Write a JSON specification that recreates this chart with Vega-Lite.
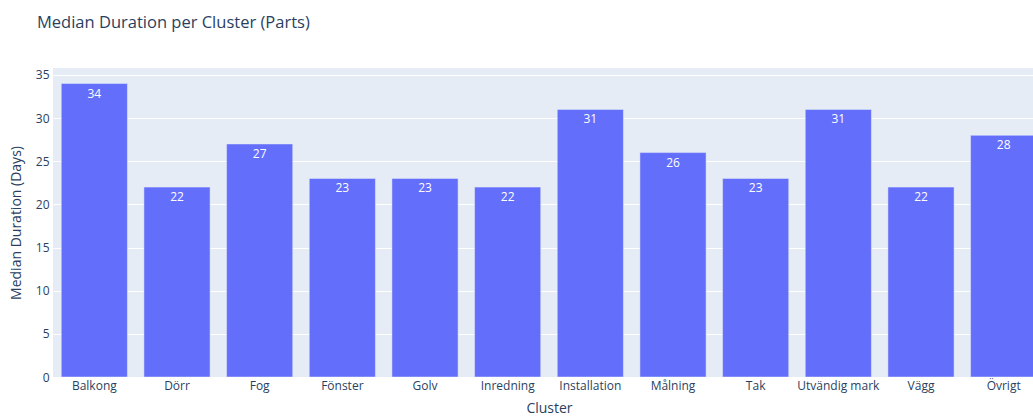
{
  "$schema": "https://vega.github.io/schema/vega-lite/v6.json",
  "autosize": "none",
  "width": 980,
  "height": 309,
  "padding": {"left": 53, "top": 68, "right": 0, "bottom": 40},
  "background": "white",
  "title": {
    "text": "Median Duration per Cluster (Parts)",
    "anchor": "start",
    "frame": "group",
    "dx": -16,
    "offset": 37,
    "fontSize": 16.5,
    "fontWeight": "normal",
    "font": "Open Sans",
    "color": "#2a3f5f"
  },
  "config": {
    "view": {"fill": "#E5ECF6", "stroke": null},
    "font": "Open Sans"
  },
  "data": {
    "values": [
      {"Cluster": "Balkong", "Median": 34},
      {"Cluster": "Dörr", "Median": 22},
      {"Cluster": "Fog", "Median": 27},
      {"Cluster": "Fönster", "Median": 23},
      {"Cluster": "Golv", "Median": 23},
      {"Cluster": "Inredning", "Median": 22},
      {"Cluster": "Installation", "Median": 31},
      {"Cluster": "Målning", "Median": 26},
      {"Cluster": "Tak", "Median": 23},
      {"Cluster": "Utvändig mark", "Median": 31},
      {"Cluster": "Vägg", "Median": 22},
      {"Cluster": "Övrigt", "Median": 28}
    ]
  },
  "encoding": {
    "x": {
      "field": "Cluster",
      "type": "nominal",
      "sort": null,
      "scale": {"range": [0, 992], "paddingInner": 0.2, "paddingOuter": 0.1},
      "axis": {
        "title": "Cluster",
        "labelAngle": 0,
        "ticks": false,
        "domain": false,
        "labelPadding": 3,
        "labelFontSize": 12,
        "labelColor": "#2a3f5f",
        "titleFontSize": 14,
        "titleFontWeight": "normal",
        "titleColor": "#2a3f5f",
        "titlePadding": 10
      }
    },
    "y": {
      "field": "Median",
      "type": "quantitative",
      "scale": {"domain": [0, 35.8], "nice": false},
      "axis": {
        "title": "Median Duration (Days)",
        "values": [0, 5, 10, 15, 20, 25, 30, 35],
        "ticks": false,
        "domain": false,
        "gridColor": "white",
        "gridWidth": 1,
        "labelPadding": 4,
        "labelFontSize": 12,
        "labelColor": "#2a3f5f",
        "titleFontSize": 14,
        "titleFontWeight": "normal",
        "titleColor": "#2a3f5f",
        "titlePadding": 12
      }
    }
  },
  "layer": [
    {
      "mark": {"type": "bar", "color": "#636efa", "stroke": "#E5ECF6", "strokeWidth": 0.5, "clip": true}
    },
    {
      "mark": {"type": "text", "color": "white", "fontSize": 12, "baseline": "middle", "dy": 10, "clip": true},
      "encoding": {"text": {"field": "Median", "type": "quantitative"}}
    }
  ]
}
